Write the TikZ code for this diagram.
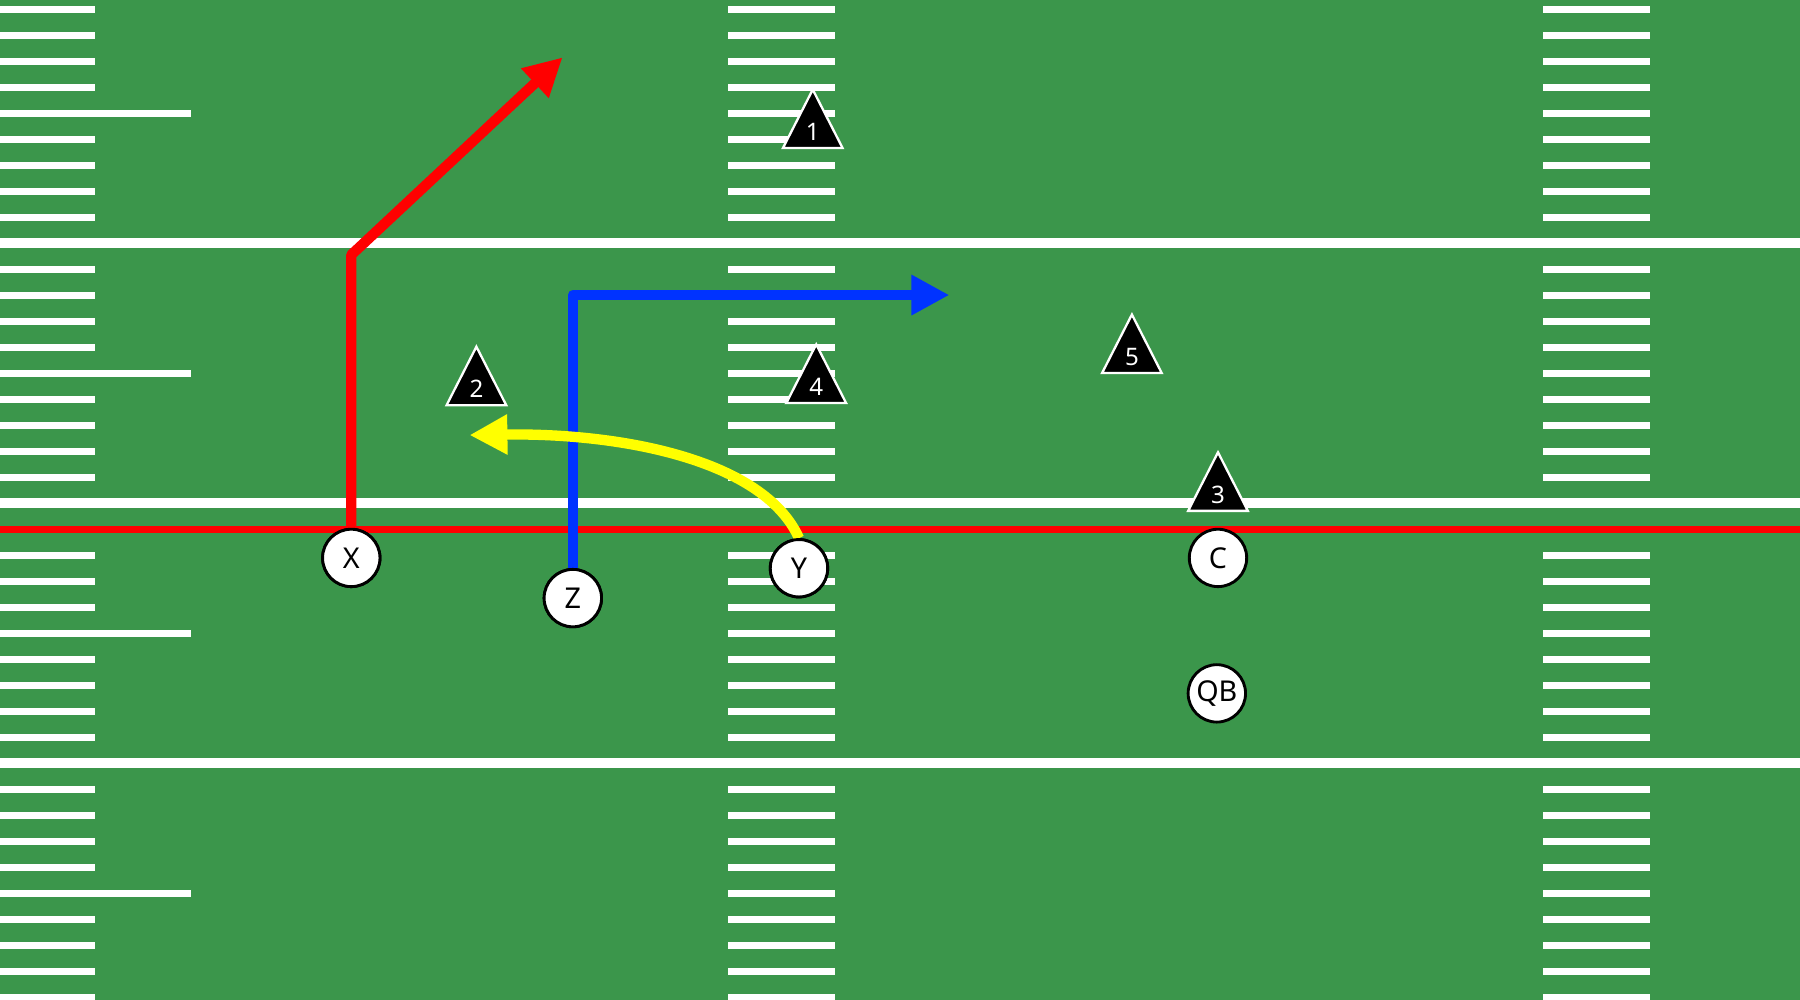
\documentclass[tikz,border=0pt]{standalone}
\usepackage{fontspec}
\setmainfont{Noto Sans}
\usetikzlibrary{arrows.meta}
\definecolor{field}{RGB}{59,150,75}
\definecolor{routeblue}{RGB}{0,51,255}
\definecolor{routered}{RGB}{255,0,0}
\definecolor{routeyellow}{RGB}{255,255,0}
\newcommand\defender[4]{%
  \draw[defline] (#2,#3) -- ++(26,51) -- ++(-52,0) -- cycle;
  \node[deftext] (#1) at (#2,#3+37) {#4};
}
\begin{document}
\begin{tikzpicture}[x=1pt,y=-1pt,
  hashmark/.style={fill=white},
  yardline/.style={fill=white},
  route/.style={line width=9pt, line join=round, -{Triangle[length=33pt,width=33pt]}},
  player/.style={circle, draw=black, line width=2.5pt, fill=white, minimum size=50pt, inner sep=0pt, font=\fontsize{25}{25}\selectfont},
  defline/.style={fill=black, draw=white, line width=2pt, line join=miter},
  deftext/.style={text=white, font=\fontsize{21}{21}\selectfont, inner sep=0pt}]
\useasboundingbox (0,0) rectangle (1568,871);
\fill[field] (0,0) rectangle (1568,871);
% hash marks
\foreach \j in {-9,...,29} {
  \pgfmathtruncatemacro\m{mod(\j+10,10)}
  \pgfmathsetmacro\yy{212+22.65*\j}
  \ifnum\m=0 \else
    \ifnum\m=5
      \fill[hashmark] (0,\yy-3.2) rectangle (166,\yy+3.2);
    \else
      \fill[hashmark] (0,\yy-3.2) rectangle (83,\yy+3.2);
    \fi
    \fill[hashmark] (634,\yy-3.2) rectangle (727,\yy+3.2);
    \fill[hashmark] (1344,\yy-3.2) rectangle (1437,\yy+3.2);
  \fi
}
% yard lines
\foreach \yy in {212,438.5,665} {
  \fill[yardline] (0,\yy-4.3) rectangle (1568,\yy+4.3);
}
% line of scrimmage
\fill[routered] (0,461-2.9) rectangle (1568,461+2.9);
% players
\node[player] (X) at (306,486) {X};
\node[player] (Z) at (499,521) {Z};
\node[player] (Y) at (696,495) {Y};
\node[player] (C) at (1061,486) {C};
\node[player] (QB) at (1060,604) {QB};
% routes
\coordinate (xr) at (307,222);
\coordinate (xt) at (490,50);
\coordinate (zc) at (501,257);
\coordinate (zt) at (827,257);
\coordinate (yt) at (409,379);
\draw[route, routered] (X.north) -- (X.north |- xr) -- (xt);
\draw[route, routeblue] (Z.north) -- (Z.north |- zc) -- (zt);
\draw[route, routeyellow] (Y.north) .. controls (665,400) and (540,377) .. (yt);
% redraw players on top of the routes
\node[player] at (X) {X};
\node[player] at (Z) {Z};
\node[player] at (Y) {Y};
% defenders
\defender{d1}{708}{78}{1}
\defender{d2}{415}{302}{2}
\defender{d4}{711}{300}{4}
\defender{d5}{986}{274}{5}
\defender{d3}{1061}{394}{3}
\end{tikzpicture}
\end{document}
